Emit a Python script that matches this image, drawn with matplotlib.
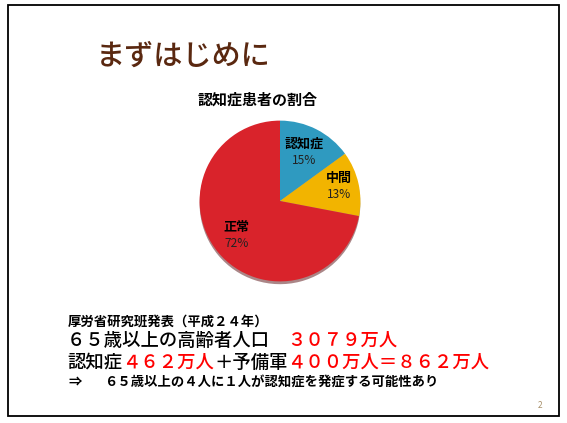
import matplotlib
matplotlib.use("Agg")
import matplotlib.pyplot as plt
from matplotlib.patches import Rectangle
import numpy as np

plt.rcParams['font.family'] = ['Noto Sans CJK JP', 'DejaVu Sans']

# data
labels = ["認知症", "中間", "正常"]
shares = [15, 13, 72]
colors = ["#2f9ac0", "#f2b400", "#d9232b"]
label_r = [0.66, 0.75, 0.70]

slide_title = "まずはじめに"
chart_title = "認知症患者の割合"
source_line = "厚労省研究班発表（平成２４年）"
# (text, colour) segments for each line
line2 = [("６５歳以上の高齢者人口　", "black"), ("３０７９万人", "#ff0000")]
line3 = [("認知症", "black"), ("４６２万人", "#ff0000"), ("＋予備軍", "black"),
         ("４００万人＝８６２万人", "#ff0000")]
line4_arrow = "⇒"
line4 = "６５歳以上の４人に１人が認知症を発症する可能性あり"
page_no = "2"

W, H = 567, 423
fig = plt.figure(figsize=(W / 100, H / 100), dpi=100)
fig.patch.set_facecolor("white")

# background axes in pixel coords
bg = fig.add_axes([0, 0, 1, 1])
bg.set_xlim(0, W)
bg.set_ylim(H, 0)
bg.axis("off")
bg.add_patch(Rectangle((8, 5), 551, 411, fill=False, edgecolor="black", lw=1.3))

bg.text(96, 56, slide_title, fontsize=21, fontweight="medium", color="#5a2810",
        va="center", ha="left")
bg.text(258, 100, chart_title, fontsize=10.8, fontweight="bold", va="center", ha="center")


def rainbow(x, y, parts, size):
    t = bg.text(x, y, parts[0][0], color=parts[0][1], fontsize=size,
                fontweight="medium", va="center", ha="left")
    for s, c in parts[1:]:
        t = bg.annotate(s, xy=(1, 0.5), xycoords=t, color=c, fontsize=size,
                        fontweight="medium", va="center", ha="left")


bg.text(68, 322, source_line, fontsize=9.6, fontweight="bold", va="center", ha="left")
rainbow(67, 341, line2, 13.2)
rainbow(67, 363, line3, 13.2)
bg.text(68, 382, line4_arrow, fontsize=9.6, fontweight="bold", va="center", ha="left")
bg.text(104, 382, line4, fontsize=9.6, fontweight="bold", va="center", ha="left")
bg.text(540, 406, page_no, fontsize=6, color="#a8906a", va="center", ha="center")

# pie
cx, cy, r = 280, 201, 82
ax = fig.add_axes([(cx - r) / W, (H - cy - r) / H, 2 * r / W, 2 * r / H])
wedges, _ = ax.pie(shares, colors=colors, startangle=90, counterclock=False,
                   radius=1.0, wedgeprops=dict(linewidth=0),
                   shadow=dict(ox=0.0, oy=-0.025, shade=0.6))
ax.set_xlim(-1.02, 1.02)
ax.set_ylim(-1.02, 1.02)
ax.set_aspect("equal")
ax.axis("off")

for w, name, pct, d in zip(wedges, labels, shares, label_r):
    ang = np.deg2rad((w.theta1 + w.theta2) / 2)
    x, y = d * np.cos(ang), d * np.sin(ang)
    ax.annotate(name, xy=(x, y), xytext=(0, 7), textcoords="offset points",
                ha="center", va="center", fontsize=9.4, fontweight="bold")
    ax.annotate(f"{pct}%", xy=(x, y), xytext=(0, -5), textcoords="offset points",
                ha="center", va="center", fontsize=8.6, color="#222222")

fig.savefig("out.png", dpi=100)
